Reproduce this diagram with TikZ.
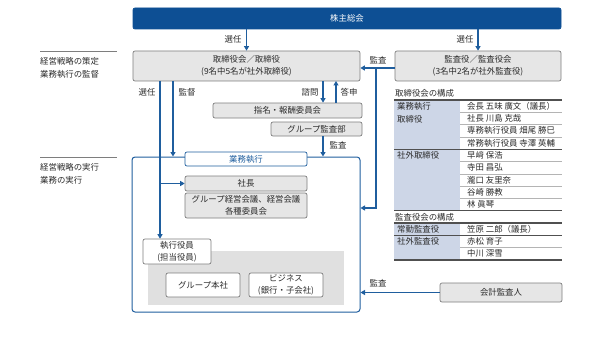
\documentclass[tikz,border=0pt]{standalone}
\usepackage{fontspec}
\setmainfont{Noto Sans CJK JP}
\usetikzlibrary{arrows.meta}
\definecolor{navy}{HTML}{0D4F94}
\definecolor{lineblue}{HTML}{1F5E9E}
\definecolor{boxgray}{HTML}{E6E6E6}
\definecolor{edgegray}{HTML}{7E7E7E}
\definecolor{areagray}{HTML}{E0E0E0}
\definecolor{colblue}{HTML}{CDD6E7}
\definecolor{ink}{HTML}{2B2B2B}
\definecolor{rulegray}{HTML}{505050}
\definecolor{thingray}{HTML}{B4B4B4}

\begin{document}
\begin{tikzpicture}[x=1pt, y=-1pt, font=\fontsize{8.4}{12}\selectfont, text=ink,
    box/.style={draw=edgegray, fill=boxgray, rounded corners=2pt, line width=0.7pt,
      inner sep=0pt, align=center},
    wbox/.style={box, fill=white},
    arr/.style={lineblue, line width=1.1pt, -{Triangle[length=4.5pt, width=5pt]}},
    lbl/.style={inner sep=0pt},
    cell/.style={anchor=west, inner sep=0pt},
    thickrule/.style={rulegray, line width=1.2pt},
    thinrule/.style={thingray, line width=0.5pt},
    sepline/.style={edgegray, line width=0.6pt}]
  \useasboundingbox (0,0) rectangle (609,342);

  % boxes
  \node[box, fill=navy, draw=navy, text=white, minimum width=428pt, minimum height=21pt]
    (agm) at (347,18.5) {株主総会};
  \node[box, minimum width=227pt, minimum height=30pt] (board) at (246.5,66)
    {取締役会／取締役\\(9名中5名が社外取締役)};
  \node[box, minimum width=166pt, minimum height=30pt] (kansa) at (478,66)
    {監査役／監査役会\\(3名中2名が社外監査役)};
  \node[box, minimum width=149pt, minimum height=15pt] (nomcom) at (287.5,110.5) {指名・報酬委員会};
  \node[box, minimum width=91pt, minimum height=14pt] (auditdept) at (316.5,129) {グループ監査部};

  \node[draw=lineblue, line width=1pt, rounded corners=3pt, fill=white,
    minimum width=228pt, minimum height=155pt] (exec) at (246,234.5) {};
  \node[wbox, draw=lineblue, text=lineblue, minimum width=122pt, minimum height=14pt]
    (tab) at (246,159) {業務執行};
  \node[box, minimum width=122pt, minimum height=15pt] (ceo) at (246,183.5) {社長};
  \node[box, minimum width=122pt, minimum height=25pt] (mtg) at (246,205.5)
    {グループ経営会議、経営会議\\各種委員会};
  \node[fill=areagray, inner sep=0pt, minimum width=196pt, minimum height=54pt] (area) at (246,278) {};
  \node[wbox, minimum width=68pt, minimum height=25pt] (officer) at (177,251.5) {執行役員\\(担当役員)};
  \node[wbox, minimum width=74pt, minimum height=24pt] (hq) at (203,285) {グループ本社};
  \node[wbox, minimum width=74pt, minimum height=24pt] (biz) at (286,285) {ビジネス\\(銀行・子会社)};
  \node[box, minimum width=122pt, minimum height=19pt] (acct) at (501,292.5) {会計監査人};

  % connectors
  \coordinate (appoint) at (160,81);
  \coordinate (oversee) at (173,81);
  \coordinate (consult) at (323,81);
  \coordinate (reply) at (336,81);
  \coordinate (kj) at (376,68);
  \coordinate (kin) at (376,208);

  \draw[arr] (agm.south -| board.north) -- (board.north);
  \draw[arr] (agm.south -| kansa.north) -- (kansa.north);
  \draw[arr] (kansa.west |- kj) -- (board.east |- kj);
  \draw[arr] (kj) -- (kin) -- (exec.east |- kin);
  \draw[arr] (appoint) -- (appoint |- officer.north);
  \draw[arr] (appoint |- ceo.west) -- (ceo.west);
  \draw[arr] (oversee) -- (oversee |- exec.north);
  \draw[arr] (consult) -- (consult |- nomcom.north);
  \draw[arr] (reply |- nomcom.north) -- (reply);
  \draw[arr] (auditdept.south -| consult) -- (consult |- exec.north);
  \draw[arr] (acct.west) -- (acct.west -| exec.east);

  \node[lbl] (l1) at (233,39) {選任};
  \node[lbl] (l2) at (465,39) {選任};
  \node[lbl] (l3) at (378,60) {監査};
  \node[lbl] (l4) at (147,92) {選任};
  \node[lbl] (l5) at (187,92) {監督};
  \node[lbl] (l6) at (310,92) {諮問};
  \node[lbl] (l7) at (349,92) {答申};
  \node[lbl] (l8) at (338,145) {監査};
  \node[lbl] (l9) at (378,283) {監査};

  % left side
  \draw[sepline] (40,51) -- (117,51);
  \node[cell] (plan1) at (40,61.5) {経営戦略の策定};
  \node[cell] (plan2) at (40,74) {業務執行の監督};
  \draw[sepline] (40,157) -- (117,157);
  \node[cell] (do1) at (40,167.5) {経営戦略の実行};
  \node[cell] (do2) at (40,180.5) {業務の実行};

  % composition tables
  \node[cell] (bdtitle) at (395,93) {取締役会の構成};
  \fill[colblue] (394,100) rectangle (460,210.7);
  \foreach \i in {1,2,3,5,6,7,8}
    \draw[thinrule] (460,{100+12.3*\i}) -- (562,{100+12.3*\i});
  \foreach \y in {100,149.2,210.7}
    \draw[thickrule] (394,\y) -- (562,\y);
  \node[cell] (grp1a) at (397,106.5) {業務執行};
  \node[cell] (grp1b) at (397,119) {取締役};
  \node[cell] (grp2) at (397,155.3) {社外取締役};
  \foreach \who [count=\i] in {会長 五味 廣文（議長）, 社長 川島 克哉, 専務執行役員 畑尾 勝巳,
      常務執行役員 寺澤 英輔, 早﨑 保浩, 寺田 昌弘, 瀧口 友里奈, 谷崎 勝教, 林 眞琴}
    \node[cell] (dir\i) at (467,{93.85+12.3*\i}) {\who};

  \node[cell] (adtitle) at (395,217) {監査役会の構成};
  \fill[colblue] (394,223) rectangle (460,259.9);
  \draw[thinrule] (460,247.6) -- (562,247.6);
  \foreach \y in {223,235.3,259.9}
    \draw[thickrule] (394,\y) -- (562,\y);
  \node[cell] (grp3) at (397,229.2) {常勤監査役};
  \node[cell] (grp4) at (397,241.5) {社外監査役};
  \foreach \who [count=\i] in {笠原 二郎（議長）, 赤松 育子, 中川 深雪}
    \node[cell] (aud\i) at (467,{216.85+12.3*\i}) {\who};
\end{tikzpicture}
\end{document}
